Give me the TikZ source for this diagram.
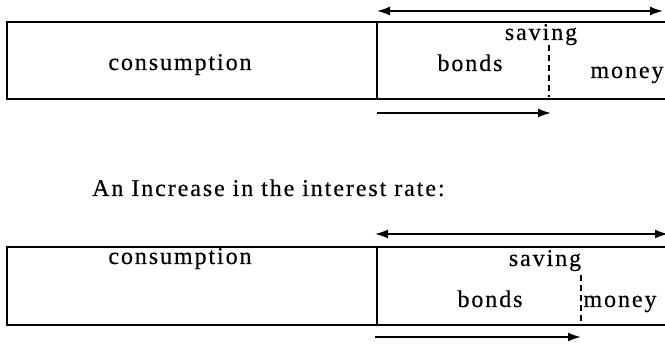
\documentclass[tikz,border=0pt]{standalone}
\usepackage{fontspec}
\setmainfont{Liberation Serif}
\newfontfamily\boxfont[LetterSpace=8,FakeBold=0.4]{Liberation Serif}
\usetikzlibrary{arrows.meta}
\usetikzlibrary{positioning}

\tikzset{
  boxline/.style={draw=black,line width=2pt},
  divline/.style={draw=black,line width=1.8pt,dash pattern=on 6pt off 4pt},
  flow/.style={draw=black,line width=1.8pt},
  lbl/.style={font=\boxfont\fontsize{24}{28}\selectfont,text=black,inner sep=0pt,anchor=base}
}

\begin{document}
\begin{tikzpicture}[x=1pt,y=-1pt]
\useasboundingbox (0,0) rectangle (665,347);

% first panel
\coordinate (tl1) at (7,22);
\coordinate (bl1) at (7,99);
\coordinate (tr1) at (667,22);
\coordinate (br1) at (667,99);
\coordinate (dt1) at (377,22);
\coordinate (db1) at (377,99);
\draw[boxline] (tr1) -- (tl1) -- (bl1) -- (br1);
\draw[boxline] (dt1) -- (db1);
\coordinate (ct1) at (549,45);
\coordinate (cb1) at (549,97);
\draw[divline] (ct1) -- (cb1);
\coordinate (sa1) at (377,11);
\coordinate (sb1) at (663,11);
\draw[flow,{Latex[length=13pt,width=9pt]}-{Latex[length=13pt,width=9pt]}] (sa1) -- (sb1);
\coordinate (ba1) at (377,113);
\coordinate (bb1) at (551,113);
\draw[flow,-{Latex[length=13pt,width=9pt]}] (ba1) -- (bb1);
\node[lbl] (cons1) at (180,70) {consumption};
\node[lbl] (sav1) at (541,40) {saving};
\node[lbl] (bond1) at (470,71) {bonds};
\node[lbl] (mon1) at (627,78) {money};

% title
\node[lbl, anchor=base west] (title) at (92,196) {An Increase in the interest rate:};

% second panel
\coordinate (tl2) at (7,247);
\coordinate (bl2) at (7,325);
\coordinate (tr2) at (667,247);
\coordinate (br2) at (667,325);
\coordinate (dt2) at (377,247);
\coordinate (db2) at (377,325);
\draw[boxline] (tr2) -- (tl2) -- (bl2) -- (br2);
\draw[boxline] (dt2) -- (db2);
\coordinate (ct2) at (581,275);
\coordinate (cb2) at (581,324);
\draw[divline] (ct2) -- (cb2);
\coordinate (sa2) at (375,234);
\coordinate (sb2) at (668,234);
\draw[flow,{Latex[length=13pt,width=9pt]}-{Latex[length=13pt,width=9pt]}] (sa2) -- (sb2);
\coordinate (ba2) at (375,337);
\coordinate (bb2) at (581,337);
\draw[flow,-{Latex[length=13pt,width=9pt]}] (ba2) -- (bb2);
\node[lbl] (cons2) at (180,264) {consumption};
\node[lbl] (sav2) at (545,266) {saving};
\node[lbl] (bond2) at (490,307) {bonds};
\node[lbl] (mon2) at (620,307) {money};

\end{tikzpicture}
\end{document}
